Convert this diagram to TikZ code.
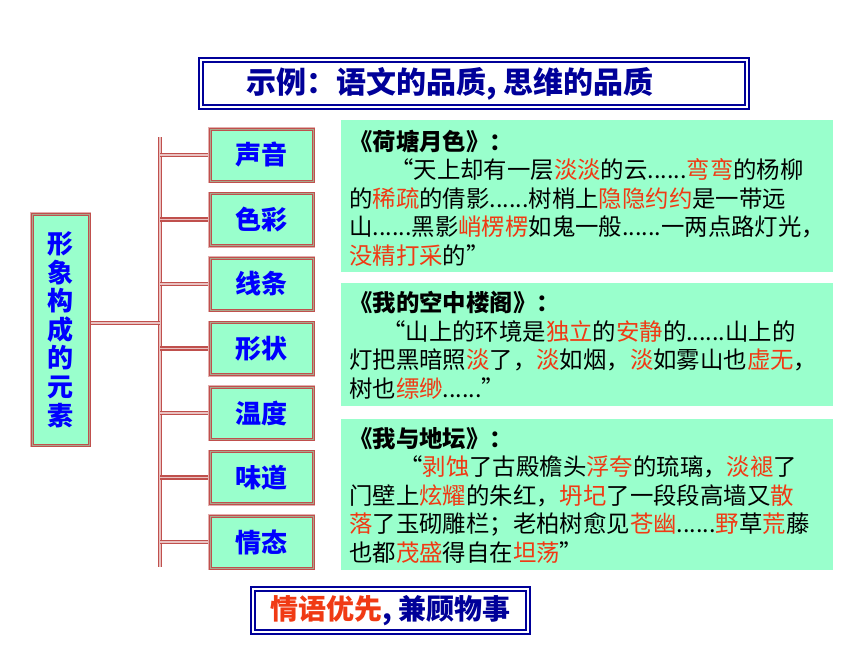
\documentclass[tikz,border=0pt]{standalone}
\usepackage{fontspec}
\setmainfont{Noto Sans CJK SC}
\usepackage{xcolor}
\usepackage{tikz}
\definecolor{mint}{HTML}{99FFCC}
\definecolor{boxred}{HTML}{C0504D}
\definecolor{boxgray}{HTML}{A8A88C}
\definecolor{navyblue}{HTML}{000099}
\definecolor{labelblue}{HTML}{0000FF}
\definecolor{hotred}{HTML}{F03A14}
\newcommand{\rw}[1]{\textcolor{hotred}{#1}}
\tikzset{
  framered/.style={draw=boxred, line width=1pt, double=boxgray, double distance=1pt,
    preaction={draw=boxred!45, line width=4pt}, fill=mint, inner sep=0pt},
  leaf/.style={minimum width=103pt, minimum height=52pt, text=labelblue,
    font=\bfseries\fontsize{26}{26}\selectfont},
  framenavy/.style={draw=navyblue, line width=2pt, double=white, double distance=2pt, fill=white},
  bar/.style={draw=boxred, double=boxred!35, line width=1.3pt, double distance=1.6pt},
  panel/.style={fill=mint, anchor=north west, minimum width=492pt, inner sep=0pt},
  quote/.style={anchor=base west, inner sep=0pt, align=left, font=\fontsize{23.4}{28.5}\selectfont}
}
\begin{document}
\begin{tikzpicture}[x=1pt,y=-1pt]
\path[use as bounding box, fill=white] (0,0) rectangle (860,645);

\node[framenavy, minimum width=546pt, minimum height=47pt] (title) at (474,83.5) {};
\node[text=navyblue, font=\bfseries\fontsize{30}{30}\selectfont] (titletext) at (450,84) {示例：语文的品质, 思维的品质};

\coordinate (top) at (160,137);
\coordinate (bot) at (160,567);
\coordinate (hub) at (160,323);
\draw[bar] (top) -- (bot);
\foreach \i in {1,...,7}
  \draw[bar] (160,{155+64.5*(\i-1)}) -- (215,{155+64.5*(\i-1)});
\draw[bar] (85,323) -- (hub);

\node[framered, minimum width=57pt, minimum height=231pt, align=center, text=labelblue,
  font=\bfseries\fontsize{26}{28.6}\selectfont] (root) at (60.5,329.5) {形\\象\\构\\成\\的\\元\\素};
\foreach \lbl [count=\i] in {声音,色彩,线条,形状,温度,味道,情态}
  \node[framered, leaf] (e\i) at (261.5,{155+64.5*(\i-1)}) {\lbl};

\node[panel, minimum height=152pt] (p1) at (341,120) {};
\node[quote] (t1) at (349,264) {{\bfseries 《荷塘月色》：}\\
\hspace*{41pt}“天上却有一层\rw{淡淡}的云......\rw{弯弯}的杨柳\\
的\rw{稀疏}的倩影......树梢上\rw{隐隐约约}是一带远\\
山......黑影\rw{峭楞楞}如鬼一般......一两点路灯光，\\
\rw{没精打采}的”};

\node[panel, minimum height=123pt] (p2) at (341,283) {};
\node[quote] (t2) at (349,397) {{\bfseries 《我的空中楼阁》：}\\
\hspace*{33pt}“山上的环境是\rw{独立}的\rw{安静}的......山上的\\
灯把黑暗照\rw{淡}了，\rw{淡}如烟，\rw{淡}如雾山也\rw{虚无}，\\
树也\rw{缥缈}......”};

\node[panel, minimum height=151pt] (p3) at (341,419) {};
\node[quote] (t3) at (349,561) {{\bfseries 《我与地坛》：}\\
\hspace*{50pt}“\rw{剥蚀}了古殿檐头\rw{浮夸}的琉璃，\rw{淡褪}了\\
门壁上\rw{炫耀}的朱红，\rw{坍圮}了一段段高墙又\rw{散}\\
\rw{落}了玉砌雕栏；老柏树愈见\rw{苍幽}......\rw{野}草\rw{荒}藤\\
也都\rw{茂盛}得自在\rw{坦荡}”};

\node[framenavy, minimum width=275pt, minimum height=43pt,
  font=\bfseries\fontsize{28}{28}\selectfont] (motto) at (390.5,610.5)
  {\textcolor{hotred}{情语优先}\textcolor{navyblue}{, 兼顾物事}};
\end{tikzpicture}
\end{document}
